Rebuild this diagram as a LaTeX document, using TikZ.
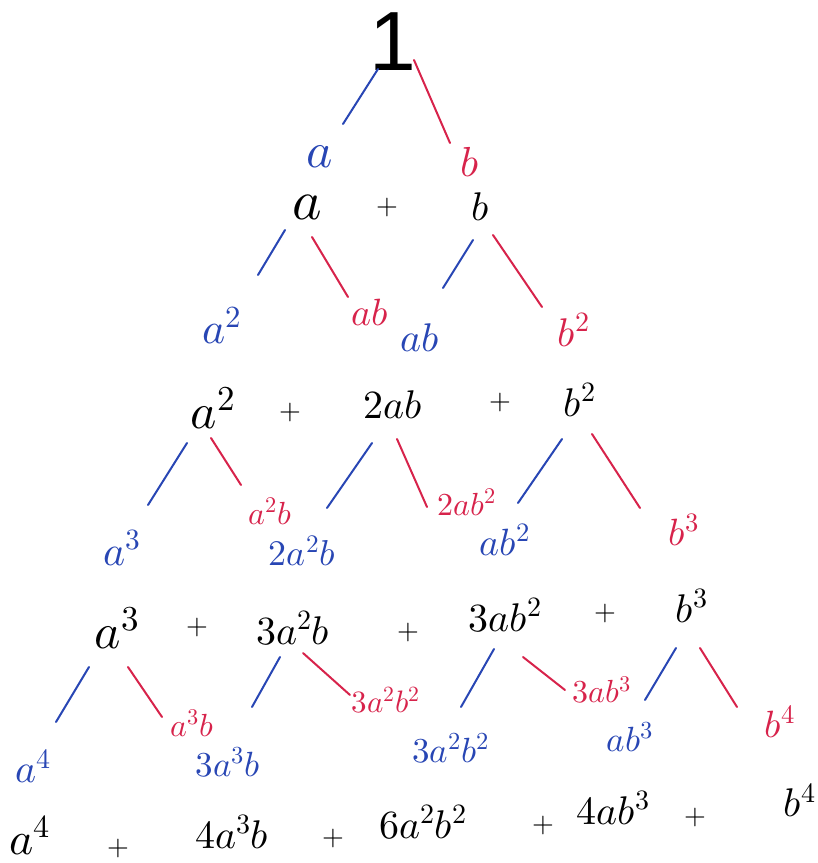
\documentclass[tikz,border=0pt]{standalone}
\usepackage{fontspec}
\usepackage{unicode-math}
\setmathfont{Latin Modern Math}
\newfontfamily\onefont{Liberation Sans}
\usetikzlibrary{calc}
\definecolor{hblue}{RGB}{40,70,180}
\definecolor{hred}{RGB}{215,35,75}
\begin{document}
\begin{tikzpicture}[x=1pt,y=-1pt,
  term/.style={font=\fontsize{40}{46}\selectfont, inner sep=0pt},
  bigterm/.style={font=\fontsize{50}{56}\selectfont, inner sep=0pt},
  plus/.style={font=\fontsize{28}{30}\selectfont, inner sep=0pt},
  lbl/.style={font=\fontsize{#1}{#1}\selectfont, inner sep=0pt},
  bl/.style={lbl=#1, text=hblue},
  rd/.style={lbl=#1, text=hred},
  bline/.style={draw=hblue, line width=2pt, line cap=round},
  rline/.style={draw=hred, line width=2pt, line cap=round}]
\useasboundingbox (0,0) rectangle (818,863);
% row 0
\node[inner sep=0pt] (one) at (393,42) {\fontsize{84}{84}\selectfont\onefont 1};
\node[bl=50] (la) at (320,157) {$a$};
\node[rd=42] (lb) at (470,162) {$b$};
% row 1
\node[inner sep=0pt, font=\fontsize{56}{60}\selectfont] (a1) at (307,207) {$a$};
\node[plus] (p1) at (387,207) {$+$};
\node[term] (b1) at (480,207) {$b$};
\node[bl=44] (la2) at (222,325) {$a^2$};
\node[rd=38] (lab) at (370,313) {$ab$};
\node[bl=40] (lab2) at (420,338) {$ab$};
\node[rd=40] (lb2) at (574,330) {$b^2$};
% row 2
\node[bigterm] (a2) at (213,408) {$a^2$};
\node[plus] (p2a) at (290,412) {$+$};
\node[term] (ab2) at (393,405) {$2ab$};
\node[plus] (p2b) at (500,402) {$+$};
\node[term] (b2) at (580,400) {$b^2$};
\node[bl=42] (la3) at (122,548) {$a^3$};
\node[rd=32] (ra2b) at (270,511) {$a^2b$};
\node[bl=36] (l2a2b) at (302,551) {$2a^2b$};
\node[rd=32] (r2ab2) at (467,502) {$2ab^2$};
\node[bl=38] (lab2b) at (505,540) {$ab^2$};
\node[rd=38] (lb3) at (684,530) {$b^3$};
% row 3
\node[bigterm] (a3) at (117,628) {$a^3$};
\node[plus] (p3a) at (197,627) {$+$};
\node[term] (t3a2b) at (293,628) {$3a^2b$};
\node[plus] (p3b) at (408,632) {$+$};
\node[term] (t3ab2) at (505,615) {$3ab^2$};
\node[plus] (p3c) at (605,613) {$+$};
\node[term] (b3) at (692,606) {$b^3$};
\node[bl=40] (la4) at (33,766) {$a^4$};
\node[rd=32] (ra3b) at (192,723) {$a^3b$};
\node[bl=35] (l3a3b) at (228,762) {$3a^3b$};
\node[rd=31] (r3a2b2) at (386,700) {$3a^2b^2$};
\node[bl=35] (l3a2b2) at (451,748) {$3a^2b^2$};
\node[rd=32] (r3ab3) at (602,690) {$3ab^3$};
\node[bl=35] (lab3) at (630,737) {$ab^3$};
\node[rd=38] (lb4) at (780,722) {$b^4$};
% row 4
\node[font=\fontsize{46}{50}\selectfont, inner sep=0pt] (a4) at (30,835) {$a^4$};
\node[plus] (p4a) at (118,848) {$+$};
\node[term] (t4a3b) at (232,832) {$4a^3b$};
\node[plus] (p4b) at (333,838) {$+$};
\node[term] (t6) at (423,822) {$6a^2b^2$};
\node[plus] (p4c) at (543,825) {$+$};
\node[term] (t4ab3) at (613,808) {$4ab^3$};
\node[plus] (p4d) at (695,817) {$+$};
\node[term] (b4) at (800,800) {$b^4$};
% connectors
\draw[bline] ($(one)+(-15,27)$) -- ($(la)+(23,-33)$);
\draw[rline] ($(one)+(21,18)$) -- ($(lb)+(-20,-19)$);
\draw[bline] ($(a1)+(-22,23)$) -- ($(la2)+(36,-50)$);
\draw[rline] ($(a1)+(5,30)$) -- ($(lab)+(-22,-16)$);
\draw[bline] ($(b1)+(-7,33)$) -- ($(lab2)+(23,-50)$);
\draw[rline] ($(b1)+(13,28)$) -- ($(lb2)+(-32,-23)$);
\draw[bline] ($(a2)+(-26,35)$) -- ($(la3)+(26,-43)$);
\draw[rline] ($(a2)+(-2,30)$) -- ($(ra2b)+(-29,-26)$);
\draw[bline] ($(ab2)+(-21,38)$) -- ($(l2a2b)+(25,-43)$);
\draw[rline] ($(ab2)+(4,34)$) -- ($(r2ab2)+(-40,5)$);
\draw[bline] ($(b2)+(-18,39)$) -- ($(lab2b)+(13,-37)$);
\draw[rline] ($(b2)+(12,34)$) -- ($(lb3)+(-44,-22)$);
\draw[bline] ($(a3)+(-28,39)$) -- ($(la4)+(23,-44)$);
\draw[rline] ($(a3)+(11,39)$) -- ($(ra3b)+(-30,-6)$);
\draw[bline] ($(t3a2b)+(-13,29)$) -- ($(l3a3b)+(24,-55)$);
\draw[rline] ($(t3a2b)+(10,25)$) -- ($(r3a2b2)+(-36,-5)$);
\draw[bline] ($(t3ab2)+(-11,34)$) -- ($(l3a2b2)+(10,-41)$);
\draw[rline] ($(t3ab2)+(18,42)$) -- ($(r3ab3)+(-37,0)$);
\draw[bline] ($(b3)+(-16,42)$) -- ($(lab3)+(15,-37)$);
\draw[rline] ($(b3)+(8,42)$) -- ($(lb4)+(-43,-15)$);
\end{tikzpicture}
\end{document}
